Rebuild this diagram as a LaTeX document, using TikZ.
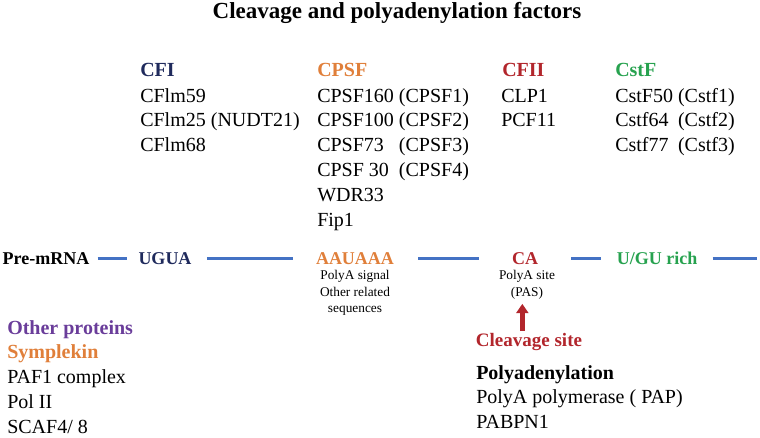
\documentclass[tikz,border=0pt]{standalone}
\usepackage{fontspec}
\setmainfont{Liberation Serif}
\usetikzlibrary{arrows.meta,positioning}

\definecolor{cfiblue}{HTML}{1F2A5C}
\definecolor{cpsforange}{HTML}{E07F3A}
\definecolor{cfiired}{HTML}{B2262C}
\definecolor{cstfgreen}{HTML}{27A24F}
\definecolor{otherpurple}{HTML}{6A3D9A}
\definecolor{rnablue}{HTML}{4472C4}

\tikzset{
  head/.style={anchor=west, inner sep=0pt, font=\fontsize{15}{18}\selectfont\bfseries},
  factors/.style={anchor=base west, inner sep=0pt, font=\fontsize{15}{18.6}\selectfont},
  motif/.style={anchor=base, inner sep=0pt, text height=9pt, text depth=0pt,
    font=\fontsize{13.5}{16}\selectfont\bfseries},
  note/.style={anchor=north, inner sep=0pt, align=center, font=\fontsize{10}{12.4}\selectfont},
  rna/.style={rnablue, line width=2.25pt},
  cleave/.style={cfiired, line width=3.5pt, -{Triangle[length=7pt, width=9pt]}},
}

\begin{document}
\begin{tikzpicture}[x=0.75pt, y=-0.75pt]
                \useasboundingbox (0,0) rectangle (760,437);

                \node[inner sep=0pt, font=\fontsize{17.25}{20}\selectfont\bfseries] (title) at (397,13) {Cleavage and polyadenylation factors};

                % factor groups
                \node[head, cfiblue] (cfi) at (140,70) {CFI};
                \node[head, cpsforange] (cpsf) at (317,70) {CPSF};
                \node[head, cfiired] (cfii) at (502,70) {CFII};
                \node[head, cstfgreen] (cstf) at (615,70) {CstF};

                \node[factors] (cfilist) at (140,102) {\begin{tabular}[t]{@{}l@{}}
                    CFlm59\\ CFlm25 (NUDT21)\\ CFlm68\end{tabular}};
                \node[factors] (cpsflist) at (317,102) {\begin{tabular}[t]{@{}l@{\ }l@{}}
                    CPSF160 & (CPSF1)\\ CPSF100 & (CPSF2)\\ CPSF73 & (CPSF3)\\
                    CPSF 30 & (CPSF4)\\ WDR33 & \\ Fip1 & \end{tabular}};
                \node[factors] (cfiilist) at (501,102) {\begin{tabular}[t]{@{}l@{}}
                    CLP1\\ PCF11\end{tabular}};
                \node[factors] (cstflist) at (615,102) {\begin{tabular}[t]{@{}l@{\ }l@{}}
                    CstF50 & (Cstf1)\\ Cstf64 & (Cstf2)\\ Cstf77 & (Cstf3)\end{tabular}};

                % pre-mRNA
                \node[motif] (pre) at (46,264) {Pre-mRNA};
                \node[motif, cfiblue] (ugua) at (165,264) {UGUA};
                \node[motif, cpsforange] (aauaaa) at (355,264) {AAUAAA};
                \node[motif, cfiired] (ca) at (525,264) {CA};
                \node[motif, cstfgreen] (gurich) at (657,264) {U/GU rich};
                \coordinate (rnaend) at (757,258);

                \draw[rna, shorten <=6pt, shorten >=8.25pt] (pre) -- (ugua);
                \draw[rna, shorten <=11.25pt, shorten >=17.25pt] (ugua) -- (aauaaa);
                \draw[rna, shorten <=18pt, shorten >=24.75pt] (aauaaa) -- (ca);
                \draw[rna, shorten <=24.75pt, shorten >=11.25pt] (ca) -- (gurich);
                \draw[rna, shorten <=11.25pt] (gurich.east) -- (gurich.east -| rnaend);

                \node[note] (signal) at (355,270) {PolyA signal\\Other related\\sequences};
                \node[note] (pas) at (527,270) {PolyA site\\(PAS)};

                \node[anchor=base, inner sep=0pt, cfiired, font=\fontsize{14.25}{16}\selectfont\bfseries] (cut) at (529,346) {Cleavage site};
                \draw[cleave, shorten <=1pt, shorten >=3.5pt] ([xshift=-5pt]cut.north) -- ([xshift=-5pt]cut.north |- pas.south);

                % other proteins
                \node[factors] (others) at (7,334) {\begin{tabular}[t]{@{}l@{}}
                    \textcolor{otherpurple}{\textbf{Other proteins}}\\
                    \textcolor{cpsforange}{\textbf{Symplekin}}\\
                    PAF1 complex\\ Pol II\\ SCAF4/ 8\end{tabular}};
                \node[factors] (polya) at (476,379) {\begin{tabular}[t]{@{}l@{}}
                    \textbf{Polyadenylation}\\ PolyA polymerase ( PAP)\\ PABPN1\end{tabular}};

            \end{tikzpicture}
\end{document}
